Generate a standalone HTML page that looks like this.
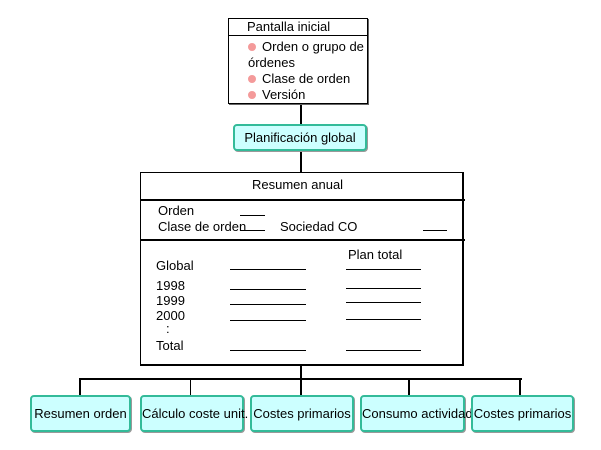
<!DOCTYPE html>
<html><head><meta charset="utf-8"><style>
body{margin:0;background:#fff;width:601px;height:450px;overflow:hidden;position:relative;font-family:"Liberation Sans",sans-serif;font-size:13px;color:#000}
.a{position:absolute;white-space:nowrap;line-height:15px}
.b{position:absolute;box-sizing:border-box}
.t{position:absolute;box-sizing:border-box;background:#ccffff;border:2px solid #33bb99;border-radius:4px;box-shadow:1px 1px 0 #999;text-align:center;white-space:nowrap;overflow:visible}
.l{position:absolute;background:#000}
.dot{display:inline-block;width:8px;height:8px;border-radius:50%;background:#f49a9a;margin-right:6px;vertical-align:0}
</style></head><body>
<div class="l" style="left:300px;top:103px;width:2px;height:21px"></div>
<div class="l" style="left:300px;top:150px;width:2px;height:22px"></div>
<div class="l" style="left:300px;top:365px;width:2px;height:14px"></div>
<div class="l" style="left:79px;top:378px;width:443px;height:2px"></div>
<div class="l" style="left:79px;top:378px;width:2px;height:17px"></div>
<div class="l" style="left:190px;top:378px;width:1px;height:17px"></div>
<div class="l" style="left:300px;top:378px;width:2px;height:17px"></div>
<div class="l" style="left:408px;top:378px;width:2px;height:17px"></div>
<div class="l" style="left:519px;top:378px;width:2px;height:17px"></div>
<div class="b" style="left:228px;top:18px;width:140px;height:86px;border:1px solid #000;box-shadow:1px 1px 0 #666;background:#fff"></div>
<div class="l" style="left:228px;top:35px;width:140px;height:1px"></div>
<div class="a" style="left:247px;top:19px">Pantalla inicial</div>
<div class="a" style="left:248px;top:39px"><span class="dot"></span>Orden o grupo de</div>
<div class="a" style="left:248px;top:55px">órdenes</div>
<div class="a" style="left:248px;top:71px"><span class="dot"></span>Clase de orden</div>
<div class="a" style="left:248px;top:87px"><span class="dot"></span>Versión</div>
<div class="t" style="left:233px;top:124px;width:134px;height:27px;line-height:23px">Planificación global</div>
<div class="b" style="left:140px;top:172px;width:324px;height:194px;border:1px solid #000;border-right-width:2px;border-bottom-width:2px;background:#fff"></div>
<div class="l" style="left:140px;top:199px;width:325px;height:2px"></div>
<div class="l" style="left:140px;top:239px;width:325px;height:2px"></div>
<div class="a" style="left:252px;top:177px">Resumen anual</div>
<div class="a" style="left:158px;top:203px">Orden</div>
<div class="l" style="left:240px;top:215px;width:25px;height:1px"></div>
<div class="a" style="left:158px;top:219px">Clase de orden</div>
<div class="l" style="left:240px;top:230px;width:25px;height:1px"></div>
<div class="a" style="left:280px;top:219px">Sociedad CO</div>
<div class="l" style="left:423px;top:230px;width:24px;height:1px"></div>
<div class="a" style="left:348px;top:247px">Plan total</div>
<div class="a" style="left:156px;top:258px">Global</div>
<div class="a" style="left:156px;top:278px">1998</div>
<div class="a" style="left:156px;top:293px">1999</div>
<div class="a" style="left:156px;top:308px">2000</div>
<div class="a" style="left:166px;top:321px">:</div>
<div class="a" style="left:156px;top:338px">Total</div>
<div class="l" style="left:230px;top:269px;width:76px;height:1px"></div>
<div class="l" style="left:346px;top:269px;width:75px;height:1px"></div>
<div class="l" style="left:230px;top:289px;width:76px;height:1px"></div>
<div class="l" style="left:346px;top:288px;width:75px;height:1px"></div>
<div class="l" style="left:230px;top:304px;width:76px;height:1px"></div>
<div class="l" style="left:346px;top:302px;width:75px;height:1px"></div>
<div class="l" style="left:230px;top:320px;width:76px;height:1px"></div>
<div class="l" style="left:346px;top:319px;width:75px;height:1px"></div>
<div class="l" style="left:230px;top:350px;width:76px;height:1px"></div>
<div class="l" style="left:346px;top:350px;width:75px;height:1px"></div>
<div class="t" style="left:30px;top:395px;width:101px;height:37px;line-height:33px">Resumen orden</div>
<div class="t" style="left:140px;top:395px;width:104px;height:37px;line-height:33px">Cálculo coste unit.</div>
<div class="t" style="left:250px;top:395px;width:104px;height:37px;line-height:33px">Costes primarios</div>
<div class="t" style="left:360px;top:395px;width:105px;height:37px;line-height:33px">Consumo actividad</div>
<div class="t" style="left:471px;top:395px;width:103px;height:37px;line-height:33px">Costes primarios</div>
</body></html>
